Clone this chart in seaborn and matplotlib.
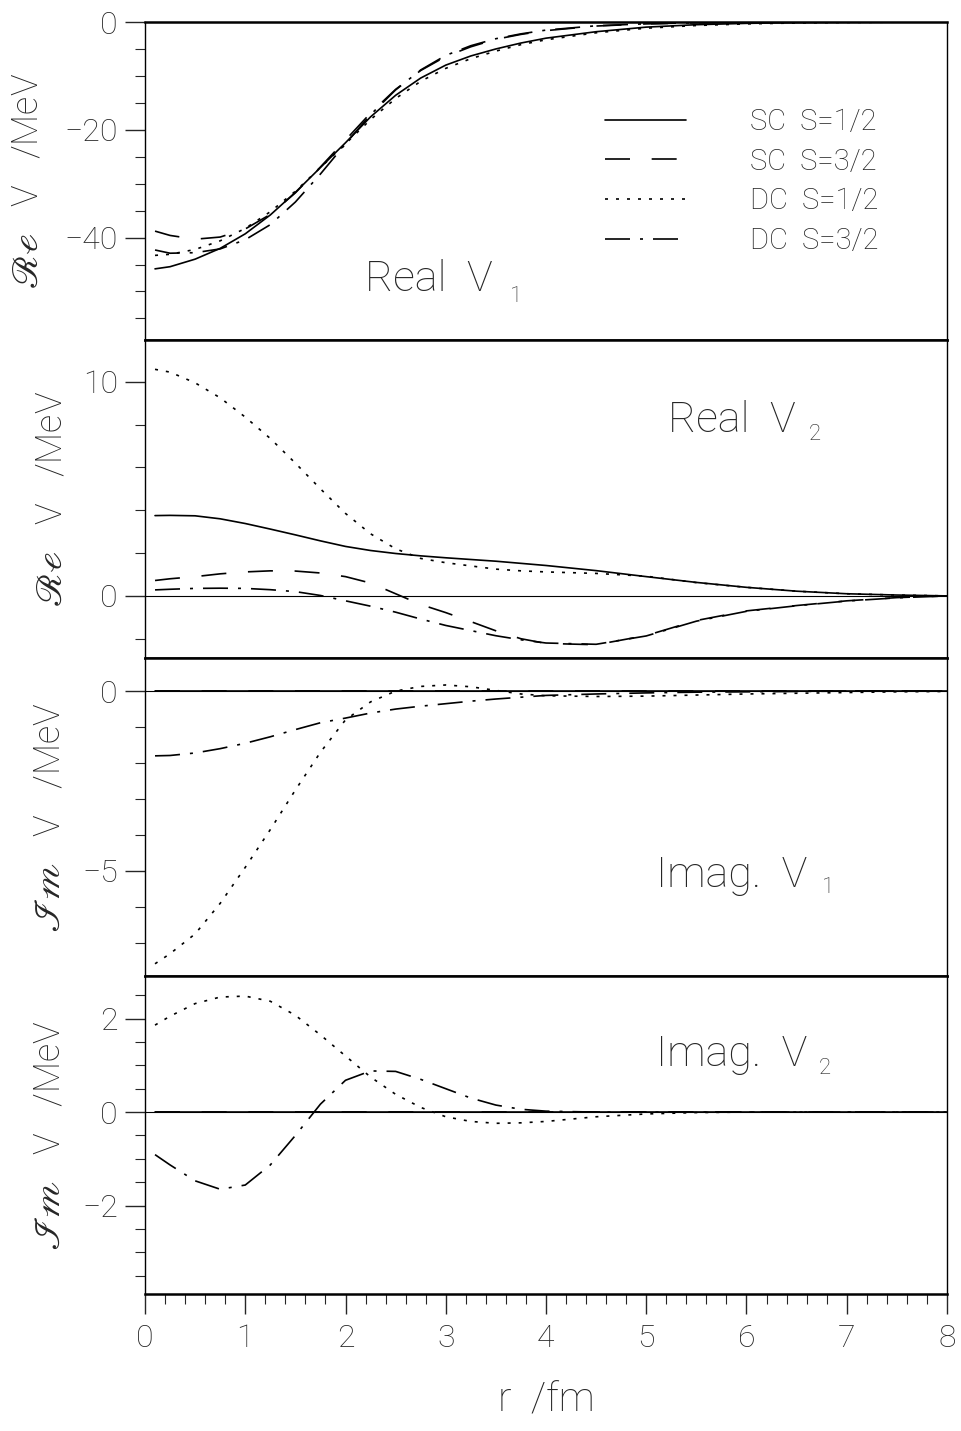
import seaborn as sns
import matplotlib.pyplot as plt
from matplotlib.ticker import FixedLocator, MultipleLocator

sns.set_style("white")
plt.rcParams['font.family'] = ['Roboto', 'DejaVu Sans']
plt.rcParams['font.weight'] = 'light'

# radial grid (fm)
R = [0.1, 0.25, 0.5, 0.75, 1.0, 1.25, 1.5, 1.75, 2.0, 2.25, 2.5, 2.75, 3.0,
     3.25, 3.5, 3.75, 4.0, 4.5, 5.0, 5.5, 6.0, 6.5, 7.0, 7.5, 8.0]

# Real V1 (MeV)
re1_sc12 = [-45.8, -45.4, -44.0, -42.0, -39.3, -35.8, -31.6, -27.0, -22.4, -17.6, -13.6, -10.4, -8.0,
            -6.3, -5.0, -3.9, -3.0, -1.8, -0.95, -0.5, -0.25, -0.12, -0.05, -0.02, 0.0]
re1_sc32 = [-38.8, -39.6, -40.3, -39.9, -38.4, -35.7, -31.7, -26.9, -21.9, -16.9, -12.5, -9.0, -6.4,
            -4.6, -3.2, -2.3, -1.6, -0.75, -0.35, -0.15, -0.07, -0.03, -0.01, 0.0, 0.0]
re1_dc12 = [-43.3, -43.1, -42.2, -40.6, -38.3, -35.2, -31.4, -27.0, -22.6, -18.1, -14.2, -11.0, -8.6,
            -6.8, -5.4, -4.2, -3.3, -2.0, -1.15, -0.65, -0.35, -0.18, -0.08, -0.03, 0.0]
re1_dc32 = [-42.3, -42.9, -42.8, -42.1, -40.4, -37.6, -33.4, -28.2, -22.6, -17.2, -12.6, -8.9, -6.2,
            -4.4, -3.1, -2.2, -1.5, -0.7, -0.33, -0.15, -0.07, -0.03, -0.01, 0.0, 0.0]

# Real V2 (MeV)
re2_sc12 = [3.75, 3.76, 3.74, 3.6, 3.38, 3.12, 2.85, 2.57, 2.31, 2.12, 1.98, 1.87, 1.78,
            1.7, 1.62, 1.52, 1.42, 1.18, 0.9, 0.63, 0.4, 0.22, 0.1, 0.04, 0.0]
re2_sc32 = [0.72, 0.8, 0.9, 1.03, 1.12, 1.17, 1.16, 1.07, 0.9, 0.6, 0.1, -0.4, -0.78,
            -1.2, -1.63, -2.0, -2.22, -2.28, -1.85, -1.15, -0.7, -0.45, -0.23, -0.08, 0.0]
re2_dc12 = [10.58, 10.45, 9.95, 9.25, 8.35, 7.35, 6.2, 5.0, 3.85, 2.9, 2.2, 1.75, 1.55,
            1.4, 1.25, 1.17, 1.12, 1.05, 0.92, 0.62, 0.4, 0.22, 0.1, 0.04, 0.0]
re2_dc32 = [0.28, 0.31, 0.35, 0.36, 0.35, 0.29, 0.2, 0.02, -0.23, -0.48, -0.76, -1.08, -1.38,
            -1.62, -1.86, -2.05, -2.2, -2.26, -1.87, -1.18, -0.72, -0.46, -0.24, -0.09, 0.0]

# Imag V1 (MeV)
im1_sc12 = [0.0] * 25
im1_sc32 = [0.0] * 25
im1_dc12 = [-7.58, -7.3, -6.75, -5.9, -4.9, -3.85, -2.75, -1.7, -0.8, -0.3, 0.0, 0.13, 0.17,
            0.12, 0.02, -0.08, -0.13, -0.15, -0.14, -0.11, -0.08, -0.06, -0.04, -0.02, -0.01]
im1_dc32 = [-1.8, -1.79, -1.72, -1.6, -1.45, -1.27, -1.07, -0.88, -0.75, -0.61, -0.5, -0.42, -0.35,
            -0.28, -0.22, -0.17, -0.12, -0.08, -0.05, -0.03, -0.02, -0.01, 0.0, 0.0, 0.0]

# Imag V2 (MeV)
im2_sc12 = [0.0] * 25
im2_sc32 = [0.0] * 25
im2_dc12 = [1.86, 2.05, 2.32, 2.46, 2.48, 2.37, 2.07, 1.65, 1.2, 0.75, 0.38, 0.1, -0.1,
            -0.2, -0.24, -0.23, -0.2, -0.1, -0.04, -0.01, 0.0, 0.0, 0.0, 0.0, 0.0]
im2_dc32 = [-0.91, -1.13, -1.47, -1.65, -1.56, -1.13, -0.5, 0.17, 0.68, 0.88, 0.87, 0.7, 0.5,
            0.3, 0.15, 0.06, 0.02, 0.0, 0.0, 0.0, 0.0, 0.0, 0.0, 0.0, 0.0]

LABELS = ["SC  S=1/2", "SC  S=3/2", "DC  S=1/2", "DC  S=3/2"]
STYLES = ["-", (0, (15, 13)), (0, (1.8, 4.8)), (0, (15, 6, 1.8, 6))]

panels = [
    dict(series=[re1_sc12, re1_sc32, re1_dc12, re1_dc32], ylim=(-59, 0), major=[-40, -20, 0], minor=5,
         name="Real  V", sub="1", pos=(0.274, 0.154), subpos=(0.455, 0.12), zero=False,
         ylab=r"$\mathscr{Re}$   V   /MeV", labx=28),
    dict(series=[re2_sc12, re2_sc32, re2_dc12, re2_dc32], ylim=(-2.9, 11.95), major=[0, 10], minor=2,
         name="Real  V", sub="2", pos=(0.652, 0.711), subpos=(0.827, 0.686), zero=True,
         ylab=r"$\mathscr{Re}$   V   /MeV", labx=52),
    dict(series=[im1_sc12, im1_sc32, im1_dc12, im1_dc32], ylim=(-7.92, 0.92), major=[-5, 0], minor=1,
         name="Imag.  V", sub="1", pos=(0.637, 0.28), subpos=(0.844, 0.26), zero=True,
         ylab=r"$\mathscr{Im}$   V   /MeV", labx=50),
    dict(series=[im2_sc12, im2_sc32, im2_dc12, im2_dc32], ylim=(-3.89, 2.91), major=[-2, 0, 2], minor=0.5,
         name="Imag.  V", sub="2", pos=(0.637, 0.716), subpos=(0.84, 0.692), zero=True,
         ylab=r"$\mathscr{Im}$   V   /MeV", labx=50),
]

W, H = 962, 1431
fig = plt.figure(figsize=(W / 100, H / 100), dpi=100)

left, width = 145 / W, 802 / W
ph = 318
tops = [22, 340, 658, 976]

for i, p in enumerate(panels):
    ax = fig.add_axes([left, 1 - (tops[i] + ph) / H, width, ph / H])
    if p["zero"]:
        ax.axhline(0, color="black", lw=0.8, zorder=1)
    for y, lab, ls in zip(p["series"], LABELS, STYLES):
        sns.lineplot(x=R, y=y, ax=ax, color="black", lw=1.2, linestyle=ls,
                     label=lab if i == 0 else None, legend=False, zorder=2)
    ax.set_xlim(0, 8)
    ax.set_ylim(*p["ylim"])
    ax.set_xlabel("")
    ax.set_ylabel("")

    for side in ["top", "bottom"]:
        ax.spines[side].set_linewidth(1.8)
    for side in ["left", "right"]:
        ax.spines[side].set_linewidth(1.0)
    for s in ax.spines.values():
        s.set_color("black")

    ax.yaxis.set_major_locator(FixedLocator(p["major"]))
    ax.yaxis.set_minor_locator(MultipleLocator(p["minor"]))
    ax.tick_params(axis="y", which="major", direction="out", length=14.4, width=1.0,
                   labelsize=23, pad=5, left=True, right=False)
    ax.tick_params(axis="y", which="minor", direction="out", length=7, width=0.8,
                   left=True, right=False)

    if i < 3:
        ax.tick_params(axis="x", which="both", bottom=False, labelbottom=False)
    else:
        ax.xaxis.set_major_locator(MultipleLocator(1))
        ax.xaxis.set_minor_locator(MultipleLocator(0.2))
        ax.tick_params(axis="x", which="major", direction="out", length=14.4, width=1.0,
                       labelsize=23, pad=7, bottom=True)
        ax.tick_params(axis="x", which="minor", direction="out", length=7.2, width=0.8,
                       bottom=True)
        ax.set_xlabel("r  /fm", fontsize=29, fontweight="light", labelpad=20)

    ax.text(p["pos"][0], p["pos"][1], p["name"], transform=ax.transAxes,
            fontsize=31, va="baseline", ha="left")
    ax.text(p["subpos"][0], p["subpos"][1], p["sub"], transform=ax.transAxes,
            fontsize=16, va="baseline", ha="left")

    yc = tops[i] + ph / 2
    fig.text(p["labx"] / W, 1 - yc / H, p["ylab"], rotation=90, ha="center", va="center",
             fontsize=26, math_fontfamily="stix")

    if i == 0:
        ax.legend(loc="upper left", bbox_to_anchor=(0.574, 0.73), frameon=False, fontsize=21,
                  handlelength=2.75, handletextpad=2.2, labelspacing=0.4,
                  borderpad=0, borderaxespad=0)

fig.savefig("out.png", dpi=100)
